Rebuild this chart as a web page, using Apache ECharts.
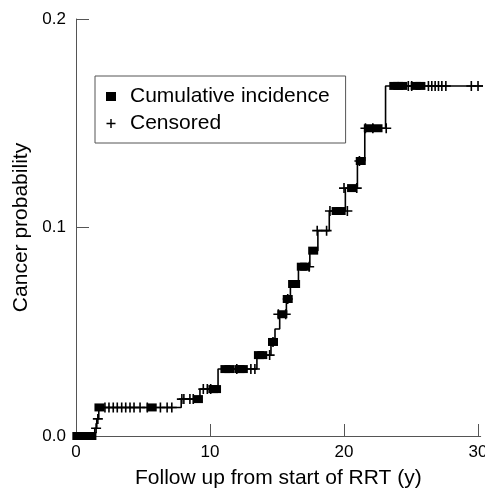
<!DOCTYPE html>
<html>
<head>
<meta charset="utf-8">
<script src="https://cdn.jsdelivr.net/npm/echarts@6/dist/echarts.min.js"></script>
<style>
html,body{margin:0;padding:0;background:#fff;}
#chart{width:485px;height:491px;}
</style>
</head>
<body>
<div id="chart"></div>
<script>
// Step function of cumulative incidence (time in years, probability)
var stepTimes  = [0, 1.4, 1.55, 1.7, 7.85, 9.25, 10.6, 13.5, 14.55, 14.85, 15.2, 15.7, 16.0, 16.6, 17.45, 18.05, 18.9, 20.1, 21.0, 21.55, 23.1, 30.4];
var stepLevels = [0, 0.0037, 0.0082, 0.0137, 0.0177, 0.0225, 0.0321, 0.0388, 0.0451, 0.0513, 0.0584, 0.0657, 0.0729, 0.0812, 0.0889, 0.0985, 0.1079, 0.1189, 0.1319, 0.1476, 0.1679, 0.1679];

// Cumulative incidence (event) markers
var incidenceTimes  = [0.1, 0.45, 0.8, 1.15, 1.75, 5.65, 9.1, 10.25, 10.45, 11.15, 11.45, 12.2, 12.45, 13.65, 13.9, 14.7, 15.4, 15.8, 16.2, 16.35, 16.85, 17.1, 17.7, 19.45, 19.75, 20.6, 21.25, 21.85, 22.5, 23.75, 24.05, 24.35, 25.35, 25.7];
var incidenceLevels = [0, 0, 0, 0, 0.0137, 0.0137, 0.0177, 0.0225, 0.0225, 0.0321, 0.0321, 0.0321, 0.0321, 0.0388, 0.0388, 0.0451, 0.0584, 0.0657, 0.0729, 0.0729, 0.0812, 0.0812, 0.0889, 0.1079, 0.1079, 0.1189, 0.1319, 0.1476, 0.1476, 0.1679, 0.1679, 0.1679, 0.1679, 0.1679];

// Censored markers
var censoredTimes  = [1.5, 1.63, 2.16, 2.46, 2.78, 3.08, 3.41, 3.71, 4.03, 4.33, 4.78, 5.32, 6.3, 6.8, 7.15, 7.9, 8.05, 8.5, 8.75, 9.5, 9.8, 10.05, 12.0, 13.05, 13.35, 14.45, 14.7, 15.1, 15.65, 15.8, 17.4, 18.0, 18.7, 18.95, 20.25, 20.0, 20.95, 21.15, 21.6, 22.15, 23.15, 24.8, 25.05, 26.3, 26.55, 26.8, 27.05, 27.3, 27.6, 29.5, 30.0];
var censoredLevels = [0.0037, 0.0082, 0.0137, 0.0137, 0.0137, 0.0137, 0.0137, 0.0137, 0.0137, 0.0137, 0.0137, 0.0137, 0.0137, 0.0137, 0.0137, 0.0177, 0.0177, 0.0177, 0.0177, 0.0225, 0.0225, 0.0225, 0.0321, 0.0321, 0.0321, 0.0388, 0.0451, 0.0584, 0.0584, 0.0657, 0.0812, 0.0985, 0.0985, 0.1079, 0.1079, 0.1189, 0.1189, 0.1319, 0.1476, 0.1476, 0.1476, 0.1679, 0.1679, 0.1679, 0.1679, 0.1679, 0.1679, 0.1679, 0.1679, 0.1679, 0.1679];

// Axis tick labels
var xTicks = [0, 10, 20, 30];
var yTicks = [0, 0.1, 0.2];

function zip(a, b) { return a.map(function (v, i) { return [v, b[i]]; }); }

var FONT = '"Liberation Sans", Arial, Helvetica, sans-serif';
var AXIS_COLOR = '#555';
var crossPath = 'path://M4.2,0H5.8V10H4.2ZM0,4.2H10V5.8H0Z';

var chart = echarts.init(document.getElementById('chart'));
chart.setOption({
  animation: false,
  backgroundColor: '#fff',
  textStyle: { fontFamily: FONT },
  grid: { left: 76, top: 19, right: 4.3, bottom: 55, outerBoundsMode: 'none', containLabel: false },
  legend: {
    data: ['Cumulative incidence', 'Censored'],
    orient: 'vertical',
    left: 95, top: 76,
    padding: [10, 16, 9, 11],
    itemGap: 6,
    itemWidth: 10, itemHeight: 9,
    borderColor: AXIS_COLOR, borderWidth: 1, borderRadius: 0,
    textStyle: { fontSize: 21, color: '#000', fontFamily: FONT, padding: [0, 0, 0, 9], lineHeight: 20 }
  },
  xAxis: {
    type: 'value', min: 0, max: 30.2, interval: 10,
    name: 'Follow up from start of RRT (y)', nameLocation: 'middle', nameGap: 32,
    nameTextStyle: { fontSize: 21, color: '#000', fontFamily: FONT },
    axisLine: { show: true, onZero: false, lineStyle: { color: AXIS_COLOR, width: 1 } },
    axisTick: { show: true, inside: true, length: 12, customValues: xTicks, lineStyle: { color: AXIS_COLOR } },
    axisLabel: { customValues: xTicks, fontSize: 17, color: '#000', margin: 8, fontFamily: FONT },
    splitLine: { show: false }
  },
  yAxis: {
    type: 'value', min: 0, max: 0.2, interval: 0.1,
    name: 'Cancer probability', nameLocation: 'middle', nameGap: 39, nameRotate: 90,
    nameTextStyle: { fontSize: 21, color: '#000', fontFamily: FONT },
    axisLine: { show: true, lineStyle: { color: AXIS_COLOR, width: 1 } },
    axisTick: { show: true, inside: true, length: 13, customValues: yTicks, lineStyle: { color: AXIS_COLOR } },
    axisLabel: { customValues: yTicks, fontSize: 17, color: '#000', margin: 10, fontFamily: FONT,
      formatter: function (v) { return v.toFixed(1); } },
    splitLine: { show: false }
  },
  series: [
    {
      name: 'curve', type: 'line', step: 'end', clip: false,
      data: zip(stepTimes, stepLevels),
      showSymbol: false, symbol: 'none',
      lineStyle: { color: '#000', width: 1.6 },
      z: 2
    },
    {
      name: 'Cumulative incidence', type: 'scatter', clip: false,
      data: zip(incidenceTimes, incidenceLevels),
      symbol: 'rect', symbolSize: [10, 8],
      itemStyle: { color: '#000', opacity: 1 },
      z: 3
    },
    {
      name: 'Censored', type: 'scatter', clip: false,
      data: zip(censoredTimes, censoredLevels),
      symbol: crossPath, symbolSize: 10, symbolKeepAspect: true,
      itemStyle: { color: '#000', opacity: 1 },
      z: 4
    }
  ]
});
</script>
</body>
</html>
